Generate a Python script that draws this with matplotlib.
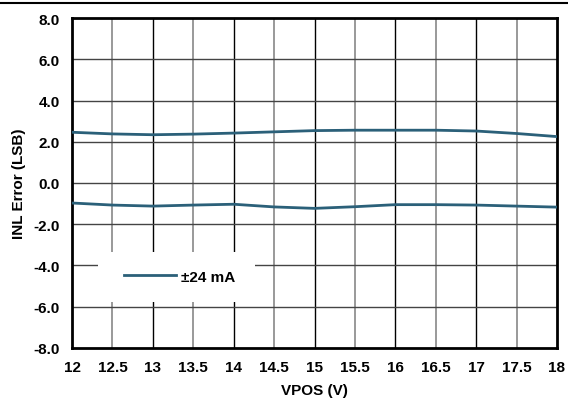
import numpy as np
import matplotlib.pyplot as plt
from matplotlib.patches import Rectangle

# VPOS sweep (V)
vpos = [12, 12.5, 13, 13.5, 14, 14.5, 15, 15.5, 16, 16.5, 17, 17.5, 18]
# INL error (LSB), upper and lower bound for +/-24 mA
inl_max = [2.46, 2.38, 2.34, 2.37, 2.42, 2.48, 2.54, 2.56, 2.56, 2.56, 2.52, 2.40, 2.25]
inl_min = [-0.97, -1.07, -1.12, -1.07, -1.03, -1.16, -1.23, -1.15, -1.05, -1.05, -1.07, -1.12, -1.17]

xticks = [12, 12.5, 13, 13.5, 14, 14.5, 15, 15.5, 16, 16.5, 17, 17.5, 18]
xticklabels = ["12", "12.5", "13", "13.5", "14", "14.5", "15", "15.5", "16", "16.5", "17", "17.5", "18"]
yticks = [-8, -6, -4, -2, 0, 2, 4, 6, 8]

plt.rcParams['font.family'] = ['Liberation Sans', 'DejaVu Sans']
plt.rcParams['font.weight'] = 'bold'

line_color = '#2b6079'
fs = 11

fig = plt.figure(figsize=(5.68, 4.06), dpi=100)
ax = fig.add_axes([0.1268, 0.1404, 0.8538, 0.8128])

# grid: black on whole volts, grey on half volts
for x in xticks[1:-1]:
    if float(x).is_integer():
        ax.axvline(x, color='black', lw=1.0, zorder=1)
    else:
        ax.axvline(x, color='#888888', lw=1.2, zorder=1)
for y in yticks[1:-1]:
    ax.axhline(y, color='#444444', lw=1.0, zorder=1)

ax.plot(vpos, inl_max, color=line_color, lw=2, label=u"\u00b124 mA", zorder=3)
ax.plot(vpos, inl_min, color=line_color, lw=2, zorder=3)

ax.set_xlim(12, 18)
ax.set_ylim(-8, 8)
ax.set_xticks(xticks)
ax.set_xticklabels(xticklabels)
ax.set_yticks(yticks)
ax.set_yticklabels(["%.1f" % v for v in yticks])
ax.tick_params(length=0, labelsize=fs)
ax.tick_params(axis='x', pad=9)
ax.tick_params(axis='y', pad=9)
for s in ax.spines.values():
    s.set_linewidth(2)

ax.set_xlabel("VPOS (V)", fontsize=fs, fontweight='bold', labelpad=6)
ax.set_ylabel("INL Error (LSB)", fontsize=fs, fontweight='bold', labelpad=5)

# white block behind the legend, cutting the grid
ax.add_patch(Rectangle((0.0536, 0.140), 0.3237, 0.1506, transform=ax.transAxes,
                       facecolor='white', edgecolor='none', zorder=2))
leg = ax.legend(loc='center left', bbox_to_anchor=(0.1072, 0.216),
                frameon=False, fontsize=fs, handlelength=3.4, handletextpad=0.3,
                borderpad=0, borderaxespad=0)
leg.set_zorder(4)

# rule across the top of the page
fig.add_artist(plt.Line2D([0, 1], [0.990, 0.990], color='black', lw=1.5))

fig.savefig("out.png", dpi=100)
